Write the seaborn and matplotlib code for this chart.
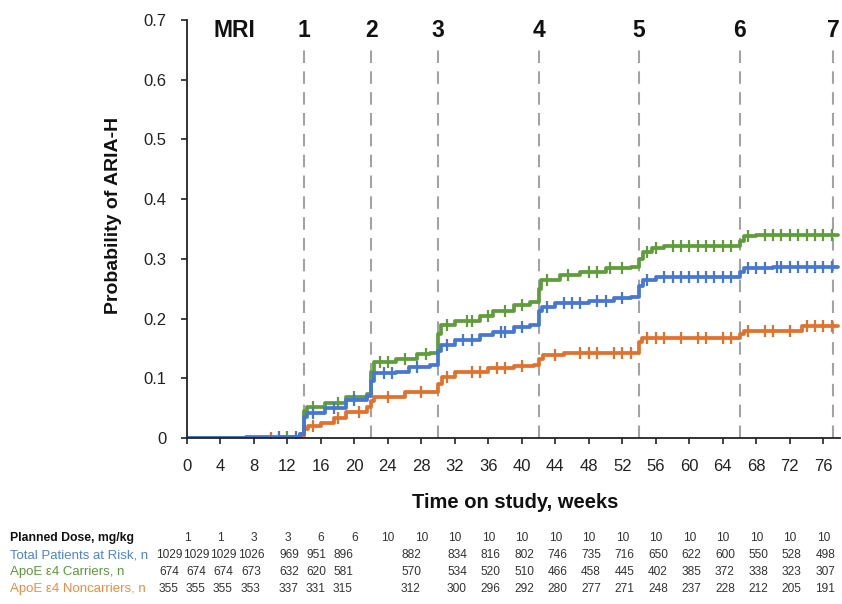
import numpy as np
import pandas as pd
import matplotlib
matplotlib.use("Agg")
import matplotlib.pyplot as plt
import matplotlib.transforms as mtransforms
from matplotlib import font_manager
import seaborn as sns

# ---------------- data ----------------
# Kaplan-Meier style step curves (time in weeks, cumulative probability)
total_t = [0, 7, 12, 13.5, 14, 14.3, 16.5, 19, 21.5, 22, 22.3, 25, 26.5, 29, 30, 30.3, 32, 35, 36.5, 39, 41, 42, 42.4, 44, 48, 51, 53, 54, 54.5, 56, 66, 66.5, 70]
total_p = [0, 0.001, 0.002, 0.006, 0.035, 0.042, 0.050, 0.063, 0.070, 0.095, 0.109, 0.110, 0.119, 0.122, 0.145, 0.156, 0.164, 0.172, 0.178, 0.186, 0.189, 0.212, 0.220, 0.226, 0.229, 0.234, 0.236, 0.255, 0.265, 0.270, 0.278, 0.284, 0.287]

carrier_t = [0, 11, 13.5, 14, 14.3, 16.5, 19, 21.5, 22, 22.3, 25, 27.5, 29, 30, 30.3, 32, 35, 36.5, 39, 41, 42, 42.3, 44.5, 47, 50, 53, 54, 54.5, 55.5, 57, 66, 66.5, 68]
carrier_p = [0, 0.002, 0.006, 0.045, 0.052, 0.059, 0.068, 0.073, 0.110, 0.127, 0.132, 0.140, 0.143, 0.175, 0.189, 0.196, 0.205, 0.213, 0.222, 0.228, 0.250, 0.265, 0.273, 0.278, 0.285, 0.287, 0.300, 0.312, 0.318, 0.322, 0.330, 0.338, 0.340]

noncarrier_t = [0, 11, 13.5, 14, 14.5, 16, 17.5, 19, 21.5, 22, 22.3, 26, 30, 30.5, 32, 36, 39, 41.5, 42, 42.5, 45, 50, 54, 54.3, 66, 66.5, 73.5]
noncarrier_p = [0, 0.002, 0.004, 0.015, 0.020, 0.025, 0.033, 0.044, 0.052, 0.062, 0.069, 0.077, 0.090, 0.102, 0.110, 0.117, 0.120, 0.122, 0.132, 0.139, 0.142, 0.143, 0.160, 0.168, 0.175, 0.180, 0.187]

# censoring times (tick marks on the curves)
total_cens = [11, 13, 15, 17.5, 20, 23.5, 24.5, 27.5, 31, 33, 34, 37.5, 38, 40, 43, 45, 46, 47, 49, 50, 52, 55, 57, 58, 59, 60, 61, 62, 63, 64, 65, 67, 68, 69, 70.5, 71, 72, 73, 74, 75, 76, 77]
carrier_cens = [12, 15, 18, 20, 23, 24, 26, 28.5, 31, 33.5, 34, 36, 38, 40, 43, 45.5, 48, 49, 50.5, 52, 55, 56, 58, 59, 60, 61, 62, 63, 64, 65, 67, 69, 70, 71, 72, 73, 74, 75, 76, 77]
noncarrier_cens = [10, 15, 18, 20.5, 24, 28, 31, 34, 35, 37, 38, 40, 44, 47, 48, 49, 51, 52, 53, 55, 56, 57, 59, 61, 62, 64, 65, 67, 69, 70, 72, 74, 75, 76, 77]

# MRI time points
mri_labels = ["1", "2", "3", "4", "5", "6", "7"]
mri_weeks = [14, 22, 30, 42, 54, 66, 77.2]

# table below the chart
x_ticks = list(range(0, 77, 4))
row_names = ["Planned Dose, mg/kg", "Total Patients at Risk, n", "ApoE \u03b54 Carriers, n", "ApoE \u03b54 Noncarriers, n"]
dose = [1, 1, 3, 3, 6, 6, 10, 10, 10, 10, 10, 10, 10, 10, 10, 10, 10, 10, 10, 10]
at_risk_total = [1029, 1029, 1029, 1026, 969, 951, 896, 882, 834, 816, 802, 746, 735, 716, 650, 622, 600, 550, 528, 498]
at_risk_carrier = [674, 674, 674, 673, 632, 620, 581, 570, 534, 520, 510, 466, 458, 445, 402, 385, 372, 338, 323, 307]
at_risk_noncarrier = [355, 355, 355, 353, 337, 331, 315, 312, 300, 296, 292, 280, 277, 271, 248, 237, 228, 212, 205, 191]

# ---------------- style ----------------
BLUE = "#4677D3"
GREEN = "#5E9D3A"
ORANGE = "#E2712B"
sns.set_style("ticks")
plt.rcParams["font.family"] = ["Liberation Sans", "DejaVu Sans"]

installed = {f.name for f in font_manager.fontManager.ttflist}
if "Liberation Sans Narrow" in installed:
    TFAM, FS, LFS0, LFS = ["Liberation Sans Narrow", "DejaVu Sans"], 10.5, 10.0, 10.8
else:
    TFAM, FS, LFS0, LFS = ["Liberation Sans", "DejaVu Sans"], 8.6, 8.8, 9.5

W, H = 842, 604
fig = plt.figure(figsize=(W / 100, H / 100), dpi=100)
ax = fig.add_axes([187 / W, 1 - 438 / H, (840 - 187) / W, (438 - 20) / H])


def step_value(ts, ps, t):
    idx = np.searchsorted(ts, t, side="right") - 1
    return ps[max(idx, 0)]


def extend(ts, ps, end=78):
    return list(ts) + [end], list(ps) + [ps[-1]]


curves = [
    (noncarrier_t, noncarrier_p, noncarrier_cens, ORANGE),
    (carrier_t, carrier_p, carrier_cens, GREEN),
    (total_t, total_p, total_cens, BLUE),
]
for ts, ps, cens, col in curves:
    xt, yp = extend(ts, ps, 77.8)
    df = pd.DataFrame({"t": xt, "p": yp})
    sns.lineplot(data=df, x="t", y="p", ax=ax, color=col, linewidth=2.7,
                 drawstyle="steps-post", estimator=None, legend=False)
    cdf = pd.DataFrame({"t": cens, "p": [step_value(ts, ps, c) for c in cens]})
    ax.plot(cdf["t"], cdf["p"], linestyle="none", marker="|", markersize=8,
            markeredgewidth=1.6, color=col)

# dashed MRI lines and labels
for lab, wk in zip(mri_labels, mri_weeks):
    ax.plot([wk, wk], [0, 0.657], color="#a3a3a3", linewidth=1.5,
            dashes=(6, 4), zorder=0)
    ax.text(wk, 0.683, lab, ha="center", va="center", fontsize=16.5,
            fontweight="bold", color="#111111")
ax.text(5.7, 0.683, "MRI", ha="center", va="center", fontsize=16.5,
        fontweight="bold", color="#111111")

ax.set_xlim(0, 78)
ax.set_ylim(0, 0.7)
ax.set_xticks(x_ticks)
ax.set_xticklabels([str(v) for v in x_ticks], fontsize=12, color="#222222")
yt = [0, 0.1, 0.2, 0.3, 0.4, 0.5, 0.6, 0.7]
ax.set_yticks(yt)
ax.set_yticklabels(["0"] + [f"{v:.1f}" for v in yt[1:]], fontsize=12, color="#222222")
ax.tick_params(axis="both", direction="out", length=4, width=1.2, color="#222222")
ax.tick_params(axis="x", pad=11)
ax.tick_params(axis="y", pad=11)
sns.despine(ax=ax)
for s in ["left", "bottom"]:
    ax.spines[s].set_color("#222222")
    ax.spines[s].set_linewidth(1.3)

ax.set_ylabel("Probability of ARIA-H", fontsize=14, fontweight="bold", color="#111111")
ax.yaxis.set_label_coords(-0.100, 0.533)
ax.set_xlabel("Time on study, weeks", fontsize=14.5, fontweight="bold", color="#111111")
ax.xaxis.set_label_coords(0.502, -0.131)

# ---------------- table ----------------
trans = mtransforms.blended_transform_factory(ax.transData, fig.transFigure)
row_y = [538, 555, 572, 589]
row_cols = ["#111111", "#4F82D6", "#5E973A", "#F08A40"]
row_vals = [dose, at_risk_total, at_risk_carrier, at_risk_noncarrier]
# early 4-digit columns are squeezed to the left
early_px = [169, 196, 223, 251, 289, 316, 343, 411]
for r, (name, yy, col, vals) in enumerate(zip(row_names, row_y, row_cols, row_vals)):
    fig.text(10 / W, 1 - yy / H, name, ha="left", va="center",
             fontsize=LFS0 if r == 0 else LFS,
             color=col, family=TFAM, fontweight="bold" if r == 0 else "normal")
    for i, v in enumerate(vals):
        if r == 0:
            fig.text(x_ticks[i], 1 - yy / H, str(v), transform=trans, ha="center",
                     va="center", fontsize=FS, color="#333333", family=TFAM)
        elif i < len(early_px):
            fig.text(early_px[i] / W, 1 - yy / H, str(v), ha="center", va="center",
                     fontsize=FS, color="#333333", family=TFAM)
        else:
            fig.text(x_ticks[i] + 0.25, 1 - yy / H, str(v), transform=trans,
                     ha="center", va="center", fontsize=FS, color="#333333", family=TFAM)

fig.savefig("out.png", dpi=100, facecolor="white")
